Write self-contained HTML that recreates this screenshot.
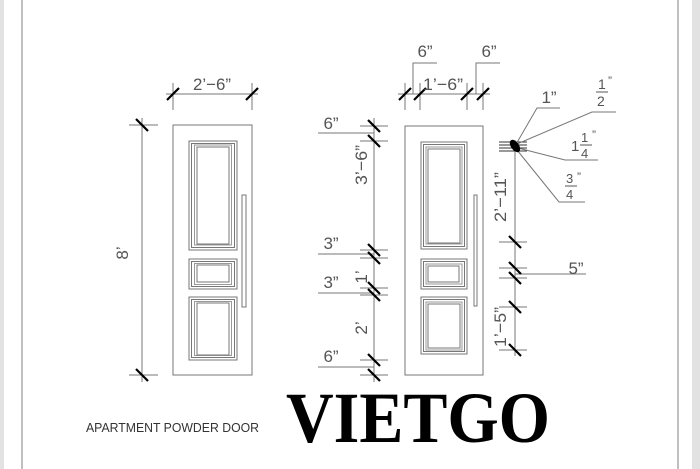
<!DOCTYPE html>
<html><head><meta charset="utf-8"><style>
html,body{margin:0;padding:0;background:#fff;}
svg{display:block;}
.t{font-family:"Liberation Sans",sans-serif;fill:#555;font-size:17px;}
</style></head><body>
<svg width="700" height="469" viewBox="0 0 700 469" xmlns="http://www.w3.org/2000/svg">
<rect x="0" y="0" width="4" height="469" fill="#e2e2e2"/>
<rect x="692" y="0" width="8" height="469" fill="#e2e2e2"/>
<line x1="22" y1="0" x2="22" y2="469" stroke="#aaa" stroke-width="1.5"/>
<line x1="678" y1="0" x2="678" y2="469" stroke="#aaa" stroke-width="1.5"/>

<g fill="none" stroke="#777" stroke-width="1">
<!-- Door 1 -->
<rect x="173" y="125" width="79" height="250"/>
<rect x="189" y="141" width="48" height="109"/><rect x="191.5" y="143.5" width="43" height="104"/><rect x="194.5" y="145" width="37" height="100" stroke="#999"/><rect x="197" y="147" width="32" height="97"/>
<rect x="189" y="259" width="48" height="30"/><rect x="191.5" y="261.5" width="43" height="25"/><rect x="194.5" y="263.5" width="37" height="21" stroke="#999"/><rect x="197" y="265" width="32" height="17"/>
<rect x="189" y="297" width="48" height="63"/><rect x="191.5" y="299.5" width="43" height="58"/><rect x="194.5" y="301.5" width="37" height="54" stroke="#999"/><rect x="197" y="303" width="32" height="52"/>
<rect x="242" y="195" width="4" height="112"/>
<!-- dim 2'-6" -->
<line x1="166" y1="94" x2="258" y2="94"/>
<line x1="173" y1="83" x2="173" y2="110"/><line x1="252" y1="83" x2="252" y2="110"/>
<!-- dim 8' -->
<line x1="142" y1="118" x2="142" y2="382"/>
<line x1="129" y1="125" x2="158" y2="125"/><line x1="129" y1="375" x2="158" y2="375"/>

<!-- Door 2 -->
<rect x="405" y="126" width="78" height="249"/>
<rect x="421" y="142" width="46" height="107"/><rect x="423.5" y="144.5" width="41" height="102"/><rect x="426" y="147" width="36" height="97" stroke="#999"/><rect x="428" y="149" width="32" height="94"/>
<rect x="421" y="259" width="46" height="30"/><rect x="423.5" y="261.5" width="41" height="25"/><rect x="426" y="264" width="36" height="20" stroke="#999"/><rect x="428" y="266" width="31" height="16"/>
<rect x="421" y="297" width="46" height="57"/><rect x="423.5" y="299.5" width="41" height="52"/><rect x="426" y="302" width="36" height="48" stroke="#999"/><rect x="428" y="304" width="32" height="44"/>
<rect x="474" y="195" width="3" height="111"/>
<!-- top dims -->
<line x1="398" y1="94" x2="490" y2="94"/>
<line x1="405" y1="83" x2="405" y2="110"/><line x1="420" y1="83" x2="420" y2="110"/>
<line x1="467" y1="83" x2="467" y2="110"/><line x1="483" y1="83" x2="483" y2="110"/>
<polyline points="413,94 413,63 437,63"/><polyline points="476,94 476,63 500,63"/>
<!-- left chain -->
<line x1="374" y1="118" x2="374" y2="382"/>
<g>
<line x1="360" y1="126" x2="388" y2="126"/><line x1="360" y1="141" x2="388" y2="141"/>
<line x1="360" y1="250" x2="388" y2="250"/><line x1="360" y1="258" x2="388" y2="258"/>
<line x1="360" y1="288" x2="388" y2="288"/><line x1="360" y1="295" x2="388" y2="295"/>
<line x1="360" y1="360" x2="388" y2="360"/><line x1="360" y1="375" x2="388" y2="375"/>
</g>
<line x1="318" y1="133" x2="374" y2="133"/><line x1="318" y1="254" x2="374" y2="254"/>
<line x1="318" y1="293" x2="374" y2="293"/><line x1="318" y1="367" x2="374" y2="367"/>
<!-- right chain -->
<line x1="515" y1="140" x2="515" y2="356"/>
<line x1="499" y1="242" x2="527" y2="242"/><line x1="499" y1="268" x2="527" y2="268"/>
<line x1="499" y1="278" x2="527" y2="278"/><line x1="499" y1="307" x2="527" y2="307"/>
<line x1="499" y1="350" x2="527" y2="350"/>
<line x1="515" y1="274" x2="586" y2="274"/>
<line x1="499" y1="142" x2="527" y2="142" stroke="#333"/><line x1="499" y1="145" x2="527" y2="145" stroke="#333"/>
<line x1="499" y1="148" x2="527" y2="148" stroke="#333"/><line x1="499" y1="151" x2="527" y2="151" stroke="#333"/>
<polyline points="515,146 537,108 560,108"/>
<polyline points="517,144 592,112 616,112"/>
<polyline points="518,148 565,160 598,160"/>
<polyline points="517,150 559,202 585,202"/>
</g>
<ellipse cx="515" cy="146" rx="4" ry="7" transform="rotate(-35 515 146)" fill="#000"/>

<!-- ticks -->
<g stroke="#000" stroke-width="2.2">
<line x1="167" y1="100" x2="179" y2="88"/><line x1="246" y1="100" x2="258" y2="88"/>
<line x1="136" y1="119" x2="148" y2="131"/><line x1="136" y1="369" x2="148" y2="381"/>
<line x1="399" y1="100" x2="411" y2="88"/><line x1="414" y1="100" x2="426" y2="88"/>
<line x1="461" y1="100" x2="473" y2="88"/><line x1="477" y1="100" x2="489" y2="88"/>
<line x1="368" y1="120" x2="380" y2="132"/><line x1="368" y1="135" x2="380" y2="147"/>
<line x1="368" y1="244" x2="380" y2="256"/><line x1="368" y1="252" x2="380" y2="264"/>
<line x1="368" y1="282" x2="380" y2="294"/><line x1="368" y1="289" x2="380" y2="301"/>
<line x1="368" y1="354" x2="380" y2="366"/><line x1="368" y1="369" x2="380" y2="381"/>
<line x1="509" y1="236" x2="521" y2="248"/><line x1="509" y1="262" x2="521" y2="274"/>
<line x1="509" y1="272" x2="521" y2="284"/><line x1="509" y1="301" x2="521" y2="313"/>
<line x1="509" y1="344" x2="521" y2="356"/>
</g>

<!-- text -->
<g class="t">
<text x="212" y="90" text-anchor="middle" textLength="38" lengthAdjust="spacingAndGlyphs">2’−6”</text>
<text transform="translate(128,253) rotate(-90)" text-anchor="middle">8’</text>
<text x="425" y="57" text-anchor="middle">6”</text>
<text x="489" y="57" text-anchor="middle">6”</text>
<text x="443" y="90" text-anchor="middle" textLength="40" lengthAdjust="spacingAndGlyphs">1’−6”</text>
<text x="331" y="129" text-anchor="middle">6”</text>
<text x="331" y="249" text-anchor="middle">3”</text>
<text x="331" y="288" text-anchor="middle">3”</text>
<text x="331" y="362" text-anchor="middle">6”</text>
<text transform="translate(367,165) rotate(-90)" text-anchor="middle" textLength="40" lengthAdjust="spacingAndGlyphs">3’−6”</text>
<text transform="translate(367,277) rotate(-90)" text-anchor="middle">1’</text>
<text transform="translate(367,328) rotate(-90)" text-anchor="middle">2’</text>
<text transform="translate(506,197) rotate(-90)" text-anchor="middle" textLength="50" lengthAdjust="spacingAndGlyphs">2’−11”</text>
<text transform="translate(506,327) rotate(-90)" text-anchor="middle" textLength="40" lengthAdjust="spacingAndGlyphs">1’−5”</text>
<text x="549" y="103" text-anchor="middle">1”</text>
<text x="576" y="274" text-anchor="middle">5”</text>
<text x="598" y="89" font-size="14">1</text><line x1="596" y1="92" x2="608" y2="92" stroke="#555"/><text x="597" y="106" font-size="14">2</text><text x="608" y="85" font-size="12">”</text>
<text x="571" y="151" font-size="15">1</text><text x="581" y="142" font-size="13">1</text><line x1="580" y1="145" x2="592" y2="145" stroke="#555"/><text x="581" y="158" font-size="13">4</text><text x="592" y="139" font-size="12">”</text>
<text x="566" y="183" font-size="13">3</text><line x1="565" y1="186" x2="577" y2="186" stroke="#555"/><text x="566" y="199" font-size="13">4</text><text x="577" y="181" font-size="12">”</text>
<text x="86" y="432" font-size="13" fill="#333" textLength="173" lengthAdjust="spacingAndGlyphs">APARTMENT POWDER DOOR</text>
</g>
<text x="286" y="442" font-family="'Liberation Serif',serif" font-weight="bold" font-size="72" fill="#000" textLength="264" lengthAdjust="spacingAndGlyphs">VIETGO</text>
</svg>
</body></html>
